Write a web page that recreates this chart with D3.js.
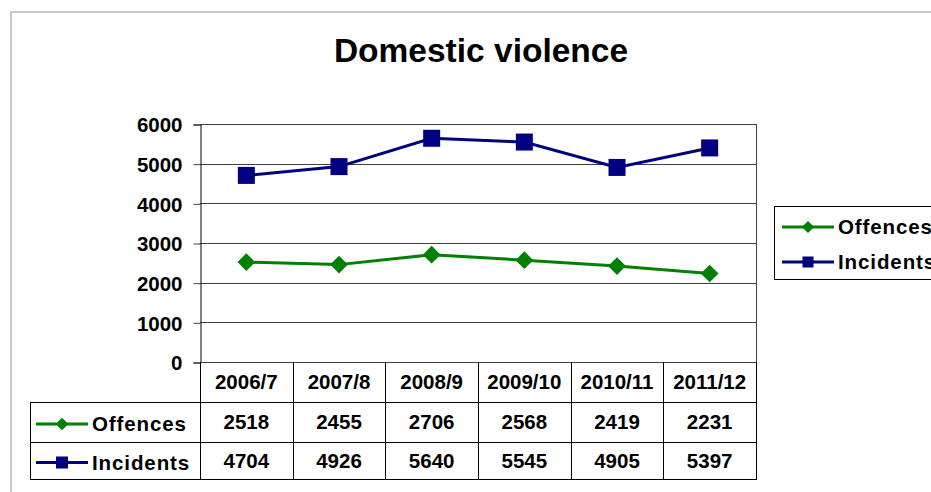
<!DOCTYPE html>
<html>
<head>
<meta charset="utf-8">
<script src="https://cdn.jsdelivr.net/npm/d3@7"></script>
<style>
  body { margin: 0; background: #fff; }
  text { font-family: "Liberation Sans", Arial, sans-serif; font-weight: bold; fill: #000; }
</style>
</head>
<body>
<svg id="chart" width="931" height="492"></svg>
<script>
var title = "Domestic violence";
var years = ["2006/7", "2007/8", "2008/9", "2009/10", "2010/11", "2011/12"];
var offences = [2518, 2455, 2706, 2568, 2419, 2231];
var incidents = [4704, 4926, 5640, 5545, 4905, 5397];
var yTicks = [0, 1000, 2000, 3000, 4000, 5000, 6000];
var seriesNames = ["Offences", "Incidents"];

var series = [
  { name: seriesNames[0], values: offences, color: "#008000", diamond: true },
  { name: seriesNames[1], values: incidents, color: "#000080", diamond: false }
];

// square for both, diamond is a square turned 45deg
function marker(sel, s, px, py, side) {
  sel.append("path")
    .attr("transform", "translate(" + px + "," + py + ")" + (s.diamond ? " rotate(45)" : ""))
    .attr("d", d3.symbol().type(d3.symbolSquare).size(side * side))
    .attr("fill", s.color);
}

var svg = d3.select("#chart");

// outer frame
svg.append("rect")
  .attr("x", 11).attr("y", 12)
  .attr("width", 960).attr("height", 520)
  .attr("fill", "#fff")
  .attr("stroke", "#c8c8c8")
  .attr("stroke-width", 2);

svg.append("text")
  .attr("x", 481).attr("y", 62)
  .attr("text-anchor", "middle")
  .style("font-size", "33.5px")
  .text(title);

var plotLeft = 200, plotRight = 756, plotTop = 124, plotBottom = 362;
var x = d3.scaleBand().domain(years).range([plotLeft, plotRight]);
var y = d3.scaleLinear().domain([0, 6000]).range([plotBottom, plotTop]);

// gridlines
svg.append("g")
  .selectAll("line")
  .data(yTicks)
  .enter()
  .append("line")
  .attr("x1", plotLeft).attr("x2", plotRight)
  .attr("y1", function (d) { return Math.round(y(d)) + 0.5; })
  .attr("y2", function (d) { return Math.round(y(d)) + 0.5; })
  .style("stroke", "#404040")
  .style("stroke-width", 1);

svg.append("line")
  .attr("x1", plotRight + 0.5).attr("x2", plotRight + 0.5)
  .attr("y1", plotTop).attr("y2", plotBottom)
  .style("stroke", "#404040");

// y axis
var yAxis = svg.append("g")
  .attr("transform", "translate(" + (plotLeft + 0.5) + ",0.5)")
  .call(d3.axisLeft(y).tickValues(yTicks).tickSize(7).tickPadding(11).tickFormat(d3.format("d")));
yAxis.select(".domain").attr("stroke", "#000");
yAxis.selectAll(".tick line").attr("stroke", "#404040");
yAxis.selectAll(".tick text")
  .attr("dy", "0.36em")
  .style("font-size", "20.5px")
  .style("font-family", "'Liberation Sans', Arial, sans-serif")
  .style("font-weight", "bold");

// lines + markers
var line = d3.line()
  .x(function (d, i) { return x(years[i]) + x.bandwidth() / 2; })
  .y(function (d) { return y(d); });

series.forEach(function (s) {
  svg.append("path")
    .datum(s.values)
    .attr("d", line)
    .attr("fill", "none")
    .attr("stroke", s.color)
    .attr("stroke-width", 3);
  var g = svg.append("g");
  s.values.forEach(function (v, i) {
    marker(g, s, x(years[i]) + x.bandwidth() / 2, y(v), s.diamond ? 12.5 : 17);
  });
});

// data table
var rowH = [plotBottom, 402, 442, 479];
var tableLeft = 30;
var tbl = svg.append("g").attr("class", "table");
var edges = years.map(function (c) { return x(c); }).concat([plotRight]);

tbl.selectAll("line.v")
  .data(edges)
  .enter()
  .append("line")
  .attr("x1", function (d) { return Math.round(d) + 0.5; })
  .attr("x2", function (d) { return Math.round(d) + 0.5; })
  .attr("y1", rowH[0]).attr("y2", rowH[3])
  .style("stroke", "#000");

tbl.append("line")
  .attr("x1", tableLeft + 0.5).attr("x2", tableLeft + 0.5)
  .attr("y1", rowH[1]).attr("y2", rowH[3])
  .style("stroke", "#000");

tbl.selectAll("line.h")
  .data(rowH.slice(1))
  .enter()
  .append("line")
  .attr("x1", tableLeft).attr("x2", plotRight + 1)
  .attr("y1", function (d) { return d + 0.5; })
  .attr("y2", function (d) { return d + 0.5; })
  .style("stroke", "#000");

tbl.selectAll("text.head")
  .data(years)
  .enter()
  .append("text")
  .attr("x", function (d) { return x(d) + x.bandwidth() / 2; })
  .attr("y", 389)
  .attr("text-anchor", "middle")
  .style("font-size", "20.5px")
  .text(function (d) { return d; });

series.forEach(function (s, r) {
  var cy = (rowH[r + 1] + rowH[r + 2]) / 2;
  tbl.selectAll(null)
    .data(s.values)
    .enter()
    .append("text")
    .attr("x", function (d, i) { return x(years[i]) + x.bandwidth() / 2; })
    .attr("y", cy + 7)
    .attr("text-anchor", "middle")
    .style("font-size", "20.5px")
    .text(function (d) { return d; });
  tbl.append("line")
    .attr("x1", 36).attr("x2", 88)
    .attr("y1", cy + 2).attr("y2", cy + 2)
    .attr("stroke", s.color).attr("stroke-width", 3);
  marker(tbl, s, 62, cy + 2, s.diamond ? 9 : 12);
  tbl.append("text")
    .attr("x", 92).attr("y", cy + 9)
    .style("font-size", "20.5px")
    .style("letter-spacing", "0.9px")
    .text(s.name);
});

// legend
var lg = svg.append("g");
lg.append("rect")
  .attr("x", 774.5).attr("y", 206.5)
  .attr("width", 200).attr("height", 73)
  .attr("fill", "#fff").attr("stroke", "#000");
series.forEach(function (s, i) {
  var ly = 227 + i * 35;
  lg.append("line")
    .attr("x1", 782).attr("x2", 834)
    .attr("y1", ly).attr("y2", ly)
    .attr("stroke", s.color).attr("stroke-width", 3);
  marker(lg, s, 808, ly, s.diamond ? 8.5 : 11);
  lg.append("text")
    .attr("x", 838).attr("y", ly + 7)
    .style("font-size", "20.5px")
    .style("letter-spacing", "0.9px")
    .text(s.name);
});
</script>
</body>
</html>
